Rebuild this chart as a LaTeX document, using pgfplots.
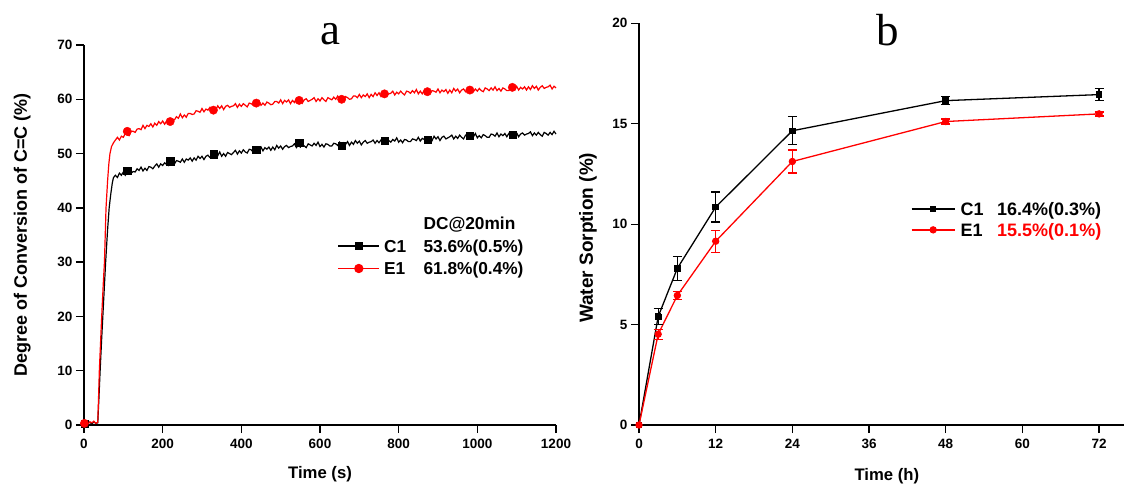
\documentclass[border=0pt]{standalone}
\usepackage{fontspec}
\setmainfont{Liberation Sans}
\newfontfamily\titlefont{Liberation Serif}
\usepackage{pgfplots}
\pgfplotsset{compat=1.18}

\pgfplotsset{
  panel/.style={
    scale only axis,
    axis lines=left,
    axis line style={-, line width=1.3pt},
    tick align=outside,
    major tick length=8pt,
    tick style={line width=1.3pt, black},
    tick label style={font=\fontsize{13.5}{13.5}\selectfont\bfseries},
    xticklabel style={yshift=-3pt},
    /pgf/number format/assume math mode=true,
    /pgf/number format/1000 sep={},
    xlabel style={font=\fontsize{16.7}{18}\selectfont\bfseries},
    legend cell align=left,
    clip=false,
  }
}

\begin{document}
\begin{tikzpicture}
\useasboundingbox (0pt,0pt) rectangle (1124pt,-487pt);

% ---------- a : degree of conversion ----------
\begin{axis}[panel,
    at={(84pt,-425pt)}, anchor=south west,
    width=472pt, height=380pt,
    xmin=0, xmax=1200, ymin=0, ymax=70,
    xtick={0,200,...,1200}, ytick={0,10,...,70},
    xlabel={Time (s)},
    ylabel={Degree of Conversion of C=C (\%)},
    xlabel style={at={(axis description cs:0.5,0)}, anchor=base, yshift=-53pt},
    ylabel style={at={(axis description cs:-0.131,0.5)}, anchor=center,
      font=\fontsize{18}{20}\selectfont\bfseries},
    legend style={draw=none, fill=none, at={(0.5367,0.5466)}, anchor=north west,
      inner sep=0pt, row sep=6.5pt, column sep=4pt,
      nodes={inner sep=0pt, text height=12.5pt, text depth=3.5pt},
      font=\fontsize{17.3}{18}\selectfont\bfseries},
    legend image code/.code={\draw[mark repeat=2,mark phase=2,#1]
      plot coordinates {(0pt,2pt) (20.5pt,2pt) (41pt,2pt)};},
  ]
% C1, one reading every 5 s once the cure has started
\addplot[black, line width=1.2pt, forget plot] coordinates {
(0,0.2) (5,0.6) (10,0.3) (15,0.5) (20,0.2) (25,0.6) (30,0.3) (35,0.4)
(38,5) (41,10) (45,16) (50,23) (55,30) (60,36) (64,40) (68,42.5) (72,44.6) (75,45.6)
(80,46.0) (85,45.6) (90,46.4) (95,46.0) (100,46.6) (105,46.0) (110,46.6) (115,46.9) (120,46.4) (125,46.7)
(130,46.6) (135,47.2) (140,46.9) (145,47.5) (150,46.8) (155,47.3) (160,46.9) (165,47.6) (170,47.5) (175,47.2)
(180,47.7) (185,48.1) (190,47.5) (195,48.1) (200,47.8) (205,48.3) (210,48.0) (215,47.8) (220,48.6) (225,48.4)
(230,48.1) (235,48.7) (240,48.6) (245,48.4) (250,49.0) (255,48.4) (260,49.0) (265,48.8) (270,49.2) (275,48.6)
(280,49.2) (285,48.8) (290,49.5) (295,49.1) (300,49.5) (305,48.9) (310,49.5) (315,49.7) (320,49.3) (325,49.5)
(330,49.4) (335,49.9) (340,49.6) (345,50.3) (350,49.5) (355,50.0) (360,49.5) (365,50.2) (370,50.0) (375,49.8)
(380,50.2) (385,50.6) (390,49.9) (395,50.5) (400,50.1) (405,50.7) (410,50.3) (415,50.1) (420,50.8) (425,50.7)
(430,50.3) (435,50.8) (440,50.8) (445,50.5) (450,51.2) (455,50.5) (460,51.1) (465,50.8) (470,51.2) (475,50.6)
(480,51.2) (485,50.7) (490,51.5) (495,51.0) (500,51.4) (505,50.8) (510,51.3) (515,51.5) (520,51.1) (525,51.3)
(530,51.4) (535,51.8) (540,51.1) (545,51.6) (550,51.2) (555,51.8) (560,51.4) (565,51.1) (570,51.8) (575,51.6)
(580,51.4) (585,51.9) (590,51.5) (595,52.1) (600,51.3) (605,51.7) (610,51.2) (615,51.8) (620,51.7) (625,51.4)
(630,51.4) (635,51.9) (640,51.8) (645,51.5) (650,52.1) (655,51.5) (660,52.0) (665,51.7) (670,52.2) (675,51.5)
(680,52.1) (685,51.7) (690,52.4) (695,51.9) (700,52.3) (705,51.6) (710,52.1) (715,52.4) (720,51.9) (725,52.1)
(730,52.2) (735,52.5) (740,51.9) (745,52.4) (750,52.0) (755,52.5) (760,52.1) (765,51.9) (770,52.6) (775,52.4)
(780,52.1) (785,52.6) (790,52.3) (795,52.9) (800,52.1) (805,52.5) (810,52.0) (815,52.6) (820,52.5) (825,52.2)
(830,52.2) (835,52.7) (840,52.6) (845,52.4) (850,53.0) (855,52.3) (860,52.8) (865,52.6) (870,53.0) (875,52.3)
(880,52.9) (885,52.4) (890,53.2) (895,52.7) (900,53.1) (905,52.4) (910,53.0) (915,53.2) (920,52.7) (925,52.9)
(930,53.1) (935,53.4) (940,52.7) (945,53.2) (950,52.8) (955,53.4) (960,53.0) (965,52.7) (970,53.4) (975,53.2)
(980,53.0) (985,53.5) (990,53.1) (995,53.7) (1000,52.9) (1005,53.3) (1010,52.9) (1015,53.5) (1020,53.3) (1025,53.0)
(1030,53.0) (1035,53.6) (1040,53.5) (1045,53.2) (1050,53.8) (1055,53.1) (1060,53.6) (1065,53.3) (1070,53.7) (1075,53.1)
(1080,53.7) (1085,53.2) (1090,53.9) (1095,53.4) (1100,53.8) (1105,53.1) (1110,53.6) (1115,53.8) (1120,53.4) (1125,53.6)
(1130,53.7) (1135,54.0) (1140,53.3) (1145,53.8) (1150,53.4) (1155,53.9) (1160,53.5) (1165,53.2) (1170,53.9) (1175,53.7)
(1180,53.4) (1185,53.9) (1190,53.5) (1195,54.1) (1200,53.6)
};
% E1
\addplot[red, line width=1.2pt, forget plot] coordinates {
(0,0.3) (5,0.7) (10,0.2) (15,0.6) (20,0.4) (25,0.7) (30,0.3) (35,0.5)
(37,5) (39,10) (42,15) (45,20) (49,26) (52,30) (56,40) (60,45) (63,48) (66,50) (70,51.3) (75,52.0)
(80,52.5) (85,53.0) (90,52.5) (95,53.2) (100,53.0) (105,53.7) (110,53.4) (115,53.3) (120,54.1) (125,54.1)
(130,53.9) (135,54.5) (140,54.6) (145,54.4) (150,55.2) (155,54.6) (160,55.2) (165,55.0) (170,55.5) (175,54.9)
(180,55.6) (185,55.2) (190,55.9) (195,55.5) (200,56.0) (205,55.4) (210,56.0) (215,56.3) (220,56.0) (225,56.3)
(230,56.2) (235,56.8) (240,56.5) (245,57.3) (250,56.6) (255,57.1) (260,56.7) (265,57.4) (270,57.4) (275,57.2)
(280,57.3) (285,57.9) (290,57.8) (295,57.6) (300,58.3) (305,57.7) (310,58.2) (315,58.0) (320,58.5) (325,57.8)
(330,58.5) (335,58.0) (340,58.8) (345,58.3) (350,58.8) (355,58.1) (360,58.7) (365,58.9) (370,58.5) (375,58.7)
(380,58.8) (385,59.2) (390,58.5) (395,59.1) (400,58.7) (405,59.2) (410,58.9) (415,58.6) (420,59.3) (425,59.2)
(430,58.9) (435,59.4) (440,59.0) (445,59.7) (450,58.9) (455,59.3) (460,58.9) (465,59.5) (470,59.3) (475,59.0)
(480,59.1) (485,59.6) (490,59.6) (495,59.3) (500,59.9) (505,59.2) (510,59.8) (515,59.5) (520,59.9) (525,59.2)
(530,59.8) (535,59.4) (540,60.1) (545,59.6) (550,60.0) (555,59.3) (560,59.9) (565,60.1) (570,59.6) (575,59.8)
(580,60.0) (585,60.3) (590,59.6) (595,60.1) (600,59.7) (605,60.3) (610,59.9) (615,59.6) (620,60.3) (625,60.1)
(630,59.9) (635,60.4) (640,60.0) (645,60.6) (650,59.9) (655,60.3) (660,59.8) (665,60.5) (670,60.3) (675,60.0)
(680,60.1) (685,60.6) (690,60.6) (695,60.3) (700,60.9) (705,60.3) (710,60.8) (715,60.5) (720,61.0) (725,60.3)
(730,60.9) (735,60.5) (740,61.2) (745,60.7) (750,61.2) (755,60.5) (760,61.0) (765,61.3) (770,60.8) (775,61.0)
(780,61.1) (785,61.5) (790,60.8) (795,61.3) (800,61.0) (805,61.5) (810,61.1) (815,60.8) (820,61.5) (825,61.4)
(830,61.1) (835,61.6) (840,61.2) (845,61.8) (850,61.0) (855,61.5) (860,61.0) (865,61.6) (870,61.4) (875,61.1)
(880,61.1) (885,61.6) (890,61.5) (895,61.3) (900,61.9) (905,61.2) (910,61.7) (915,61.4) (920,61.8) (925,61.1)
(930,61.7) (935,61.2) (940,62.0) (945,61.5) (950,61.9) (955,61.2) (960,61.7) (965,61.9) (970,61.4) (975,61.7)
(980,61.8) (985,62.1) (990,61.4) (995,61.9) (1000,61.5) (1005,62.0) (1010,61.6) (1015,61.4) (1020,62.1) (1025,61.9)
(1030,61.6) (1035,62.1) (1040,61.7) (1045,62.3) (1050,61.6) (1055,62.0) (1060,61.5) (1065,62.1) (1070,61.9) (1075,61.6)
(1080,61.6) (1085,62.2) (1090,62.1) (1095,61.8) (1100,62.4) (1105,61.7) (1110,62.2) (1115,61.9) (1120,62.3) (1125,61.7)
(1130,62.3) (1135,61.8) (1140,62.5) (1145,62.0) (1150,62.4) (1155,61.7) (1160,62.2) (1165,62.5) (1170,62.0) (1175,62.2)
(1180,62.3) (1185,62.6) (1190,61.9) (1195,62.4) (1200,62.1)
};
\addplot[black, only marks, mark=square*, mark size=3.6pt, forget plot] coordinates {
(1,0.3) (110,46.8) (219,48.6) (329,49.9) (438,50.7) (547,52.0)
(655,51.4) (764,52.3) (873,52.5) (981,53.3) (1089,53.5)};
\addplot[red, only marks, mark=*, mark size=4.2pt, forget plot] coordinates {
(1,0.3) (110,54.1) (219,55.9) (329,58.0) (438,59.3) (547,59.8)
(655,60.0) (764,61.0) (873,61.4) (981,61.7) (1089,62.2)};
\addlegendimage{legend image code/.code={}}
\addlegendentry{\hspace*{39.4pt}DC@20min}
\addlegendimage{black, line width=1.6pt, mark=square*, mark size=3.3pt}
\addlegendentry{\makebox[39.4pt][l]{C1}53.6\%(0.5\%)}
\addlegendimage{red, line width=1.3pt, mark=*, mark size=4pt}
\addlegendentry{\makebox[39.4pt][l]{E1}61.8\%(0.4\%)}
\end{axis}

% ---------- b : water sorption ----------
\begin{axis}[panel,
    at={(639pt,-425pt)}, anchor=south west,
    width=485pt, height=401.7pt,
    xmin=0, xmax=75.9, ymin=0, ymax=20,
    xtick={0,12,...,72}, ytick={0,5,...,20},
    xlabel={Time (h)},
    ylabel={Water Sorption (\%)},
    xlabel style={at={(axis description cs:0.511,0)}, anchor=base, yshift=-55pt},
    ylabel style={at={(axis description cs:-0.105,0.466)}, anchor=center,
      font=\fontsize{19}{20}\selectfont\bfseries},
    legend style={draw=none, fill=none, at={(0.5602,0.5535)}, anchor=north west,
      inner sep=0pt, row sep=5pt, column sep=5pt,
      nodes={inner sep=0pt, text height=12.5pt, text depth=3.5pt},
      font=\fontsize{18}{19}\selectfont\bfseries},
    legend image code/.code={\draw[mark repeat=2,mark phase=2,#1]
      plot coordinates {(0pt,2pt) (21.6pt,2pt) (43.3pt,2pt)};},
  ]
\addplot[black, line width=1.3pt, mark=square*, mark size=2.6pt] coordinates {
(0,0) (3,5.4) (6,7.8) (12,10.85) (24,14.65) (48,16.15) (72,16.45)};
\addlegendentry{\makebox[36.7pt][l]{C1}16.4\%(0.3\%)}
\addplot[red, line width=1.3pt, mark=*, mark size=3pt] coordinates {
(0,0) (3,4.52) (6,6.45) (12,9.15) (24,13.12) (48,15.11) (72,15.49)};
\addlegendentry{\makebox[36.7pt][l]{E1}\textcolor{red}{15.5\%(0.1\%)}}
\addplot[black, only marks, mark=square*, mark size=2.6pt, forget plot,
    error bars/.cd, y dir=both, y explicit,
    error bar style={line width=1.3pt, black},
    error mark options={rotate=90, mark size=4.5pt, line width=1.3pt, black}]
  coordinates {
(3,5.4) +- (0,0.4)
(6,7.8) +- (0,0.6)
(12,10.85) +- (0,0.75)
(24,14.65) +- (0,0.7)
(48,16.15) +- (0,0.2)
(72,16.45) +- (0,0.3)};
\addplot[red, only marks, mark=*, mark size=3pt, forget plot,
    error bars/.cd, y dir=both, y explicit,
    error bar style={line width=1.3pt, red},
    error mark options={rotate=90, mark size=4.5pt, line width=1.3pt, red}]
  coordinates {
(3,4.52) +- (0,0.25)
(6,6.45) +- (0,0.2)
(12,9.15) +- (0,0.55)
(24,13.12) +- (0,0.57)
(48,15.11) +- (0,0.12)
(72,15.49) +- (0,0.1)};
\end{axis}

\node[font=\titlefont\fontsize{45}{45}\selectfont, anchor=base] at (330pt,-45pt) {a};
\node[font=\titlefont\fontsize{45}{45}\selectfont, anchor=base] at (888pt,-46pt) {b};
\end{tikzpicture}
\end{document}
